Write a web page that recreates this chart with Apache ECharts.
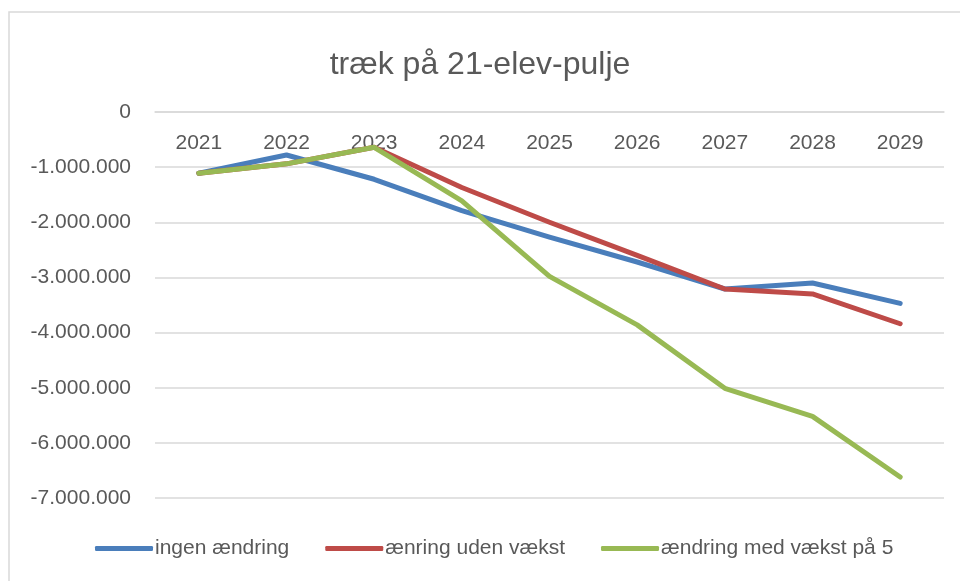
<!DOCTYPE html>
<html>
<head>
<meta charset="utf-8">
<script src="https://cdn.jsdelivr.net/npm/echarts@6/dist/echarts.min.js"></script>
<style>
  html, body { margin: 0; padding: 0; background: #fff; }
  #chart { width: 960px; height: 581px; }
</style>
</head>
<body>
<div id="chart"></div>
<script>
const years = ['2021', '2022', '2023', '2024', '2025', '2026', '2027', '2028', '2029']
const ingenAendring = [-1110000, -780000, -1220000, -1790000, -2270000, -2720000, -3210000, -3100000, -3470000]
const aenringUdenVaekst = [-1110000, -940000, -640000, -1370000, -2000000, -2600000, -3210000, -3300000, -3840000]
const aendringMedVaekst = [-1110000, -940000, -640000, -1610000, -2980000, -3860000, -5010000, -5520000, -6620000]

const textColor = '#595959'
const font = 'Liberation Sans'

function danish (v) {
  const s = String(Math.abs(v)).replace(/\B(?=(\d{3})+(?!\d))/g, '.')
  return (v < 0 ? '-' : '') + s
}

function line (name, data, color) {
  return {
    name: name,
    type: 'line',
    data: data,
    symbol: 'none',
    lineStyle: { width: 5, color: color, cap: 'round', join: 'round' },
    itemStyle: { color: color }
  }
}

const chart = echarts.init(document.getElementById('chart'))
chart.setOption({
  animation: false,
  backgroundColor: '#fff',
  graphic: [{
    type: 'rect',
    shape: { x: 9, y: 12, width: 1000, height: 600 },
    style: { fill: 'none', stroke: '#d9d9d9', lineWidth: 1.5 }
  }],
  title: {
    text: 'træk på 21-elev-pulje',
    left: 'center',
    top: 44,
    textStyle: { fontFamily: font, fontSize: 32, fontWeight: 'normal', color: textColor }
  },
  legend: {
    bottom: 17,
    left: 90,
    itemWidth: 58,
    itemHeight: 5,
    itemGap: 36,
    icon: 'roundRect',
    textStyle: { fontFamily: font, fontSize: 21, color: textColor, padding: [0, 0, 0, -3] }
  },
  grid: { left: 155, right: 16, top: 112, bottom: 83 },
  xAxis: {
    type: 'category',
    data: years,
    position: 'top',
    axisLine: { lineStyle: { color: '#d9d9d9', width: 1.5 } },
    axisTick: { show: false },
    axisLabel: { inside: true, fontFamily: font, fontSize: 21, color: textColor, margin: 21 }
  },
  yAxis: {
    type: 'value',
    min: -7000000,
    max: 0,
    interval: 1000000,
    axisLine: { show: false },
    axisTick: { show: false },
    splitLine: { lineStyle: { color: '#d9d9d9', width: 1.5 } },
    axisLabel: { fontFamily: font, fontSize: 21, color: textColor, margin: 24, formatter: danish }
  },
  series: [
    line('ingen ændring', ingenAendring, '#4a7ebb'),
    line('ænring uden vækst', aenringUdenVaekst, '#be4b48'),
    line('ændring med vækst på 5', aendringMedVaekst, '#98b954')
  ]
})
</script>
</body>
</html>
